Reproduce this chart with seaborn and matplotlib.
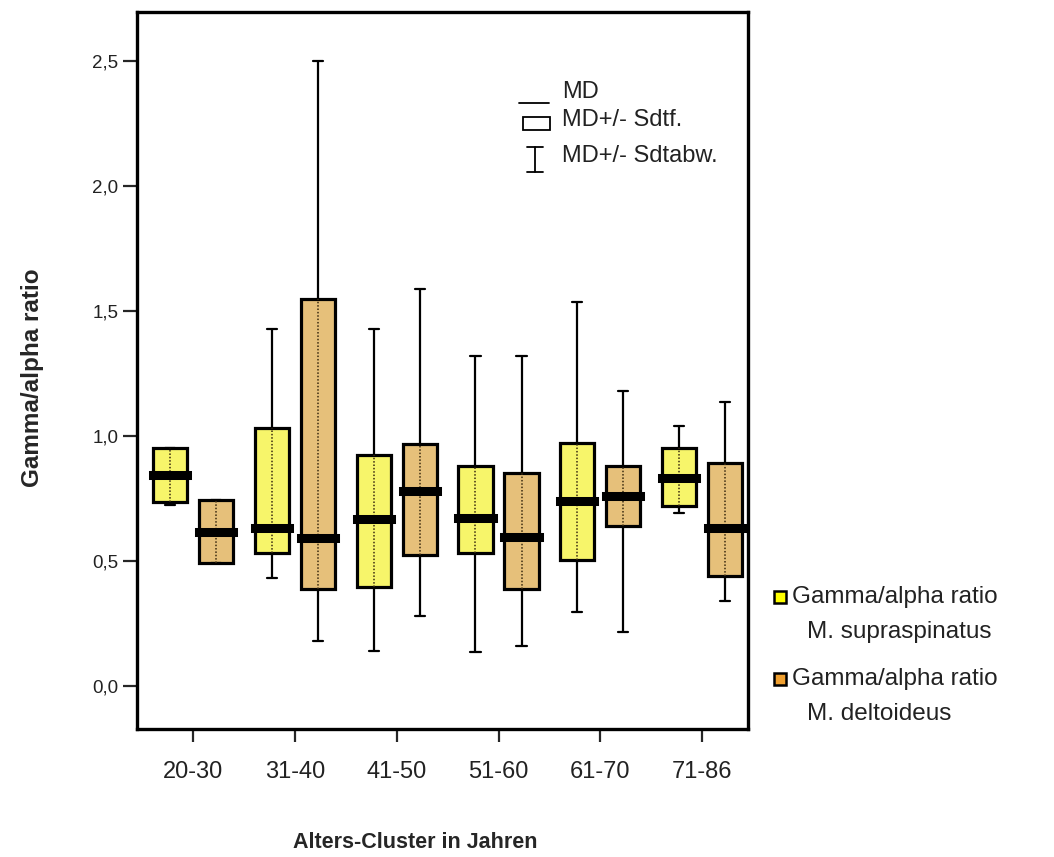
import numpy as np
import pandas as pd
import matplotlib
matplotlib.use("Agg")
import matplotlib.pyplot as plt
from matplotlib.patches import Rectangle
from matplotlib.lines import Line2D
import seaborn as sns

# ---------------- data ----------------
groups = ['20-30', '31-40', '41-50', '51-60', '61-70', '71-86']
series = ['Gamma/alpha ratio\nM. supraspinatus', 'Gamma/alpha ratio\nM. deltoideus']

# M. supraspinatus: whisker low, box low, median, box high, whisker high
supra_lo = [0.724, 0.433, 0.140, 0.137, 0.297, 0.691]
supra_q1 = [0.737, 0.531, 0.395, 0.531, 0.504, 0.720]
supra_md = [0.844, 0.633, 0.667, 0.671, 0.741, 0.831]
supra_q3 = [0.951, 1.031, 0.924, 0.880, 0.971, 0.953]
supra_hi = [0.951, 1.428, 1.428, 1.320, 1.537, 1.040]

# M. deltoideus
delt_lo = [0.491, 0.180, 0.280, 0.160, 0.217, 0.340]
delt_q1 = [0.491, 0.387, 0.524, 0.387, 0.640, 0.440]
delt_md = [0.617, 0.591, 0.780, 0.597, 0.760, 0.633]
delt_q3 = [0.744, 1.547, 0.967, 0.853, 0.880, 0.893]
delt_hi = [0.744, 2.500, 1.588, 1.320, 1.180, 1.137]

yticks = [0.0, 0.5, 1.0, 1.5, 2.0, 2.5]
ytick_labels = ['0,0', '0,5', '1,0', '1,5', '2,0', '2,5']

# five summary values per box -> seaborn box with whis=inf reproduces them exactly
rows = []
for s, arrs in zip(series, [(supra_lo, supra_q1, supra_md, supra_q3, supra_hi),
                            (delt_lo, delt_q1, delt_md, delt_q3, delt_hi)]):
    for i, g in enumerate(groups):
        for a in arrs:
            rows.append({'group': g, 'series': s, 'value': a[i]})
df = pd.DataFrame(rows)

# ---------------- style ----------------
sns.set_style('ticks')
plt.rcParams['font.family'] = ['Liberation Sans', 'DejaVu Sans']

yellow_box = '#F7F56A'
orange_box = '#E6C07A'
yellow_leg = '#FFFF00'
orange_leg = '#F0A030'
txt = '#222222'

fig = plt.figure(figsize=(10.54, 8.57), dpi=100)
ax = fig.add_axes([137/1054, 1-729/857, 611/1054, 717/857])

sns.boxplot(data=df, x='group', y='value', hue='series', order=groups,
            hue_order=series, palette=[yellow_box, orange_box], saturation=1,
            whis=np.inf, width=0.904, gap=0.26, linecolor='black',
            linewidth=2.3, legend=False, ax=ax, capwidths=0.1,
            medianprops=dict(linewidth=6.5, color='black', solid_capstyle='projecting'),
            whiskerprops=dict(linewidth=1.6),
            capprops=dict(linewidth=1.6))

# dotted centre line inside every box (SPSS style)
for p in ax.patches:
    ext = p.get_path().get_extents()
    if ext.width <= 0:
        continue
    xc = (ext.x0 + ext.x1) / 2
    ax.vlines(xc, ext.y0, ext.y1, colors='#3a2a10', linestyles=(0, (1.0, 1.2)),
              linewidth=1.1, zorder=2.05)

ax.set_xlim(-0.55, 5.45)
ax.set_ylim(-0.172, 2.696)
ax.set_yticks(yticks)
ax.set_yticklabels(ytick_labels)

for sp in ax.spines.values():
    sp.set_visible(True)
    sp.set_linewidth(2.4)
    sp.set_color('black')

ax.tick_params(axis='y', direction='out', length=10, width=1.6, pad=3.5,
               labelsize=13.5, labelcolor=txt)
ax.tick_params(axis='x', direction='out', length=9, width=1.6, pad=14,
               labelsize=17, labelcolor=txt)

ax.set_xlabel('Alters-Cluster in Jahren', fontsize=15.5, fontweight='bold')
ax.set_ylabel('Gamma/alpha ratio', fontsize=17.5, fontweight='bold')
ax.xaxis.set_label_coords(0.455, -0.143)
ax.yaxis.set_label_coords(-0.152, 0.49)

# ---------------- top legend (symbol key) ----------------
kfs = 17
ax.add_line(Line2D([0.625, 0.674], [0.873, 0.873], transform=ax.transAxes,
                   color='black', lw=1.3))
ax.text(0.696, 0.889, 'MD', transform=ax.transAxes, fontsize=kfs,
        va='center', ha='left', color=txt)
ax.add_patch(Rectangle((0.632, 0.836), 0.044, 0.018, transform=ax.transAxes,
                       facecolor='white', edgecolor='black', lw=1.3))
ax.text(0.696, 0.849, 'MD+/- Sdtf.', transform=ax.transAxes, fontsize=kfs,
        va='center', ha='left', color=txt)
ax.add_line(Line2D([0.651, 0.651], [0.777, 0.812], transform=ax.transAxes,
                   color='black', lw=1.3))
ax.add_line(Line2D([0.638, 0.664], [0.812, 0.812], transform=ax.transAxes,
                   color='black', lw=1.3))
ax.add_line(Line2D([0.638, 0.664], [0.777, 0.777], transform=ax.transAxes,
                   color='black', lw=1.3))
ax.text(0.696, 0.799, 'MD+/- Sdtabw.', transform=ax.transAxes, fontsize=kfs,
        va='center', ha='left', color=txt)

# ---------------- right legend ----------------
for (yc, col, lab) in [(597, yellow_leg, series[0]), (679, orange_leg, series[1])]:
    fig.patches.append(Rectangle((774/1054, 1-(yc+6)/857), 12/1054, 12/857,
                                 transform=fig.transFigure, facecolor=col,
                                 edgecolor='black', lw=1.8))
    l1, l2 = lab.split('\n')
    fig.text(792/1054, 1-yc/857, l1, fontsize=17.5, va='center', ha='left', color=txt)
    fig.text(807/1054, 1-(yc+35)/857, l2, fontsize=17.5, va='center', ha='left', color=txt)

fig.savefig('out.png', dpi=100, facecolor='white')
